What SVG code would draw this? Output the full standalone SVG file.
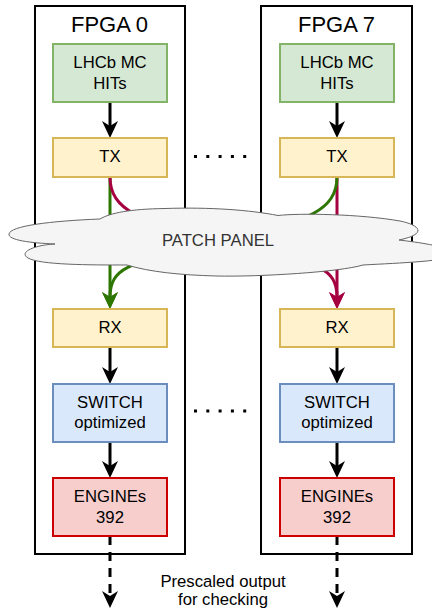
<svg xmlns="http://www.w3.org/2000/svg" width="432" height="612" viewBox="0 0 432 612">
<style>
text{font-family:"Liberation Sans",Arial,sans-serif;text-anchor:middle;fill:#000}
.t{font-size:16.7px}
.title{font-size:22px}
.fpga{fill:#fff;stroke:#000;stroke-width:2}
.g{fill:#d5e8d4;stroke:#82b366;stroke-width:2}
.y{fill:#fff2cc;stroke:#d6b656;stroke-width:2}
.b{fill:#dae8fc;stroke:#6c8ebf;stroke-width:2}
.r{fill:#f8cecc;stroke:#cc0000;stroke-width:2}
.blk{fill:none;stroke:#000;stroke-width:3}
.grn{fill:none;stroke:#2d7600;stroke-width:3}
.red{fill:none;stroke:#a50040;stroke-width:3}
.dash{stroke-dasharray:9 7}
.dots{fill:none;stroke:#000;stroke-width:3;stroke-dasharray:3 9.3}
</style>
<defs>
<marker id="aBlk" markerUnits="userSpaceOnUse" markerWidth="18" markerHeight="17" refX="5" refY="8" orient="auto" overflow="visible"><path d="M0,0 L17,8 L0,16 L5,8 Z" fill="#000"/></marker>
<marker id="aGrn" markerUnits="userSpaceOnUse" markerWidth="18" markerHeight="17" refX="5" refY="8" orient="auto" overflow="visible"><path d="M0,0 L17,8 L0,16 L5,8 Z" fill="#2d7600"/></marker>
<marker id="aRed" markerUnits="userSpaceOnUse" markerWidth="18" markerHeight="17" refX="5" refY="8" orient="auto" overflow="visible"><path d="M0,0 L17,8 L0,16 L5,8 Z" fill="#a50040"/></marker>
</defs>
<g id="fpga0"><rect class="fpga" x="35" y="6" width="150" height="548"/><text class="title" x="109.5" y="32">FPGA 0</text></g>
<g id="fpga7"><rect class="fpga" x="261" y="6" width="151" height="548"/><text class="title" x="336.5" y="32">FPGA 7</text></g>
<g id="connectors">
<path class="blk" d="M110,102 V126" marker-end="url(#aBlk)"/>
<path class="blk" d="M337,102 V126" marker-end="url(#aBlk)"/>
<path class="grn" d="M110,177 V297" marker-end="url(#aGrn)"/>
<path class="red" d="M337,177 V297" marker-end="url(#aRed)"/>
<path class="red" d="M110,177 C110,215 150,222 223,243 C306,262 337,262 337,297" marker-end="url(#aRed)"/>
<path class="grn" d="M337,177 C337,215 297,222 223,243 C140,262 110,262 110,297" marker-end="url(#aGrn)"/>
<path class="blk" d="M110,347 V372" marker-end="url(#aBlk)"/>
<path class="blk" d="M337,347 V372" marker-end="url(#aBlk)"/>
<path class="blk" d="M110,442 V466" marker-end="url(#aBlk)"/>
<path class="blk" d="M337,442 V466" marker-end="url(#aBlk)"/>
<path class="blk dash" d="M110,536 V596" marker-end="url(#aBlk)"/>
<path class="blk dash" d="M337,536 V596" marker-end="url(#aBlk)"/>
<path class="dots" d="M194,156.5 H248"/>
<path class="dots" d="M194,411 H248"/>
</g>
<g id="patch-panel">
<path d="M100,219 C110,213 130,209 165,208.5 C210,207 250,210 278,215.5 C300,213 360,214 400,221 C420,225 428,234 399,240 C425,243 460,249 455,255 C450,261 400,263 363,265 C340,272 260,277 216,276 C180,275 150,272 127,265 C90,265 40,265 28,258 C18,252 35,245 55,244 C30,243 8,240 9,234 C10,226 50,221 100,219 Z" fill="#f5f5f5" stroke="#666" stroke-width="1"/>
<text class="t" x="218" y="246" style="fill:#333">PATCH PANEL</text>
</g>
<g id="hits0"><rect class="g" x="53" y="44" width="114" height="58"/><text class="t" x="110" y="68">LHCb MC</text><text class="t" x="110" y="89">HITs</text></g>
<g id="hits7"><rect class="g" x="280" y="44" width="114" height="58"/><text class="t" x="337" y="68">LHCb MC</text><text class="t" x="337" y="89">HITs</text></g>
<g id="tx0"><rect class="y" x="53" y="138" width="114" height="39"/><text class="t" x="110" y="162">TX</text></g>
<g id="tx7"><rect class="y" x="280" y="138" width="114" height="39"/><text class="t" x="337" y="162">TX</text></g>
<g id="rx0"><rect class="y" x="53" y="309" width="114" height="38"/><text class="t" x="110" y="333">RX</text></g>
<g id="rx7"><rect class="y" x="280" y="309" width="114" height="38"/><text class="t" x="337" y="333">RX</text></g>
<g id="switch0"><rect class="b" x="53" y="384" width="114" height="58"/><text class="t" x="110" y="408">SWITCH</text><text class="t" x="110" y="428">optimized</text></g>
<g id="switch7"><rect class="b" x="280" y="384" width="114" height="58"/><text class="t" x="337" y="408">SWITCH</text><text class="t" x="337" y="428">optimized</text></g>
<g id="engines0"><rect class="r" x="53" y="478" width="114" height="58"/><text class="t" x="110" y="502">ENGINEs</text><text class="t" x="110" y="523">392</text></g>
<g id="engines7"><rect class="r" x="280" y="478" width="114" height="58"/><text class="t" x="337" y="502">ENGINEs</text><text class="t" x="337" y="523">392</text></g>
<g id="note"><text class="t" x="223" y="587" style="font-size:16.7px">Prescaled output</text><text class="t" x="223" y="605" style="font-size:16.7px">for checking</text></g>
</svg>
